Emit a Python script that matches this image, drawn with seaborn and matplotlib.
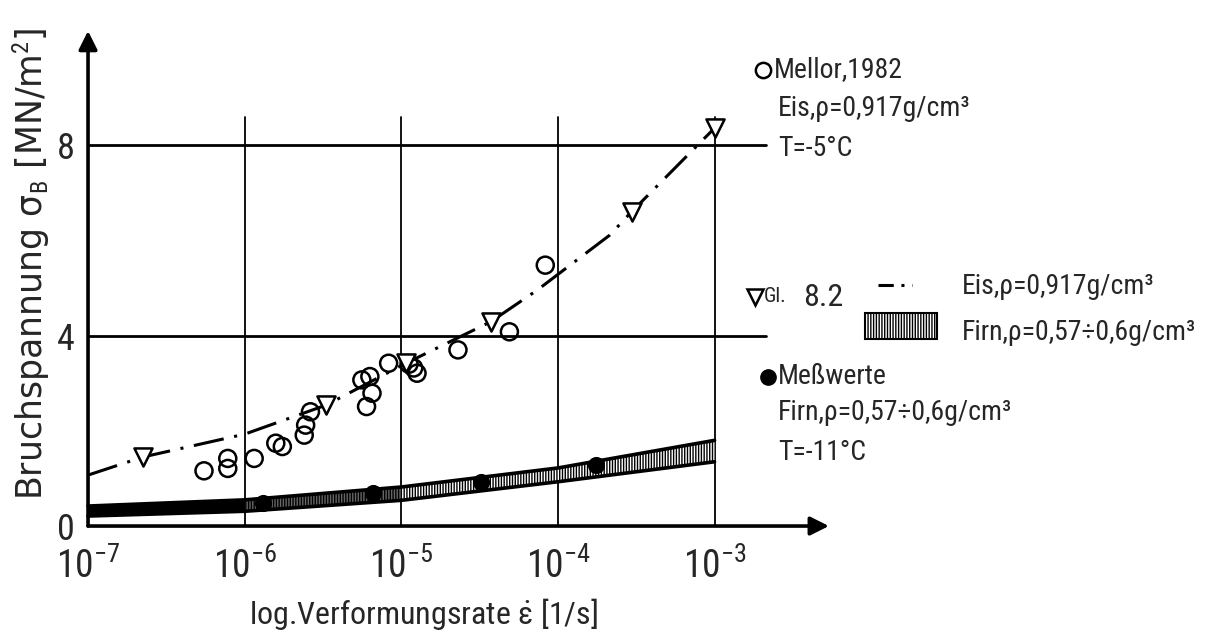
import numpy as np
import pandas as pd
import matplotlib
matplotlib.use("Agg")
import matplotlib.pyplot as plt
import seaborn as sns
from matplotlib import font_manager
from matplotlib.patches import Rectangle
from matplotlib.ticker import NullLocator

# ---------------- data ----------------
# Mellor, 1982 (open circles): strain rate [1/s], stress [MN/m^2]
mellor_rate = [5.5e-7, 7.8e-7, 7.8e-7, 1.15e-6, 1.58e-6, 1.74e-6, 2.4e-6, 2.45e-6,
               2.63e-6, 5.6e-6, 6.0e-6, 6.3e-6, 6.5e-6, 8.3e-6, 1.12e-5, 1.2e-5,
               1.26e-5, 2.3e-5, 4.9e-5, 8.3e-5]
mellor_stress = [1.16, 1.42, 1.21, 1.42, 1.74, 1.67, 1.91, 2.12,
                 2.40, 3.07, 2.51, 3.14, 2.79, 3.42, 3.40, 3.32,
                 3.21, 3.70, 4.08, 5.48]

# Gl. 8.2 (open triangles)
gl82_rate = [2.24e-7, 3.31e-6, 1.07e-5, 3.72e-5, 2.95e-4, 1.0e-3]
gl82_stress = [1.45, 2.54, 3.42, 4.29, 6.60, 8.36]

# Gl. 8.2 curve for ice (dash-dot)
eis_rate = [1e-7, 2.24e-7, 1e-6, 3.31e-6, 1.07e-5, 3.72e-5, 7.4e-5, 2.14e-4, 2.95e-4, 1e-3]
eis_stress = [1.07, 1.45, 1.93, 2.54, 3.42, 4.29, 4.96, 6.11, 6.60, 8.36]

# Gl. 8.2 band for firn (hatched)
firn_rate = [1e-7, 1e-6, 1e-5, 1e-4, 1e-3]
firn_upper = [0.42, 0.55, 0.82, 1.22, 1.80]
firn_lower = [0.21, 0.31, 0.54, 0.93, 1.35]

# Messwerte (filled circles)
mess_rate = [1.3e-6, 6.6e-6, 3.25e-5, 1.76e-4]
mess_stress = [0.48, 0.69, 0.93, 1.28]

x_ticks = [1e-7, 1e-6, 1e-5, 1e-4, 1e-3]
x_ticklabels = [r"$10^{-7}$", r"$10^{-6}$", r"$10^{-5}$", r"$10^{-4}$", r"$10^{-3}$"]
y_ticks = [0, 4, 8]
y_ticklabels = ["0", "4", "8"]
grid_y = [4, 8]
grid_x = [1e-6, 1e-5, 1e-4, 1e-3]

# ---------------- style ----------------
sns.set_theme(style="white")
names = {f.name for f in font_manager.fontManager.ttflist}
font = "DejaVu Sans"
for cand in ["Liberation Sans Narrow", "DejaVu Sans Condensed", "Roboto Condensed",
             "Open Sans Condensed", "Liberation Sans"]:
    if cand in names:
        font = cand
        break
plt.rcParams["font.family"] = [font, "DejaVu Sans"]
plt.rcParams["mathtext.fontset"] = "custom"
plt.rcParams["mathtext.rm"] = font
plt.rcParams["mathtext.it"] = font
plt.rcParams["mathtext.bf"] = font
plt.rcParams["hatch.linewidth"] = 1.0

W, H = 1214, 635
fig = plt.figure(figsize=(W / 100, H / 100), dpi=100)
fig.patch.set_facecolor("white")

# axes placement (pixel-derived)
lx0, lx1 = -7.02, -2.2
y0, y1 = -0.1, 10.6
ax_left = 84.9 / W
ax_w = 755.0 / W
ax_bottom = (H - 530.8) / H
ax_h = 509.4 / H
ax = fig.add_axes([ax_left, ax_bottom, ax_w, ax_h])
ax.set_facecolor("white")
ax.set_xscale("log")
ax.set_xlim(10 ** lx0, 10 ** lx1)
ax.set_ylim(y0, y1)

# grid lines
for gy in grid_y:
    ax.plot([1e-7, 10 ** -2.67], [gy, gy], color="black", lw=2.0, zorder=1)
for gx in grid_x:
    ax.plot([gx, gx], [0, 8.6], color="black", lw=1.3, zorder=1)

# firn band
ax.fill_between(firn_rate, firn_lower, firn_upper, facecolor="white",
                edgecolor="black", hatch="||||||", linewidth=0, zorder=2)
df_band = pd.DataFrame({"rate": firn_rate * 2,
                        "stress": firn_upper + firn_lower,
                        "edge": ["upper"] * 5 + ["lower"] * 5})
sns.lineplot(data=df_band, x="rate", y="stress", units="edge", estimator=None,
             color="black", lw=2.6, ax=ax, zorder=3, legend=False)
# dark left part of the band
ax.fill_between(firn_rate[:2], firn_lower[:2], firn_upper[:2], facecolor="black",
                linewidth=0, zorder=2)
ax.fill_between(firn_rate[1:3], firn_lower[1:3], firn_upper[1:3], facecolor="black",
                alpha=0.6, linewidth=0, zorder=2)

# ice curve (dash-dot)
df_eis = pd.DataFrame({"rate": eis_rate, "stress": eis_stress})
sns.lineplot(data=df_eis, x="rate", y="stress", color="black", lw=2.2, ax=ax,
             zorder=3, estimator=None, sort=False,
             linestyle=(0, (10, 3.5, 1, 3.5)))

# markers
df_mellor = pd.DataFrame({"rate": mellor_rate, "stress": mellor_stress})
sns.scatterplot(data=df_mellor, x="rate", y="stress", marker="o", s=150,
                facecolor="none", edgecolor="black", linewidth=1.8, ax=ax, zorder=4)
df_gl = pd.DataFrame({"rate": gl82_rate, "stress": gl82_stress})
sns.scatterplot(data=df_gl, x="rate", y="stress", marker="v", s=170,
                facecolor="white", edgecolor="black", linewidth=1.8, ax=ax, zorder=5)
df_mess = pd.DataFrame({"rate": mess_rate, "stress": mess_stress})
sns.scatterplot(data=df_mess, x="rate", y="stress", marker="o", s=130,
                color="black", edgecolor="black", ax=ax, zorder=5)

# axis arrows
ax.annotate("", xy=(10 ** -2.27, 0), xytext=(1e-7, 0),
            arrowprops=dict(arrowstyle="-|>", lw=2.6, color="black",
                            mutation_scale=28, shrinkA=0, shrinkB=0), zorder=6)
ax.annotate("", xy=(1e-7, 10.4), xytext=(1e-7, 0),
            arrowprops=dict(arrowstyle="-|>", lw=2.6, color="black",
                            mutation_scale=28, shrinkA=0, shrinkB=0), zorder=6)

sns.despine(ax=ax, left=True, bottom=True, top=True, right=True)
ax.set_xticks(x_ticks)
ax.set_xticklabels(x_ticklabels, fontsize=27)
ax.xaxis.set_minor_locator(NullLocator())
ax.set_yticks(y_ticks)
ax.set_yticklabels(y_ticklabels, fontsize=26)
ax.tick_params(axis="both", length=0)
ax.tick_params(axis="x", pad=12)
ax.tick_params(axis="y", pad=7)
ax.grid(False)

ax.set_xlabel(r"log.Verformungsrate $\dot{\varepsilon}$ [1/s]", fontsize=23)
ax.xaxis.set_label_coords((423 - 84.9) / 755.0, (530.8 - 596) / 509.4)
ax.set_ylabel(r"Bruchspannung σ$_\mathrm{B}$ [MN/m$^2$]", fontsize=25,
              family=["DejaVu Sans"])
ax.yaxis.set_label_coords((52 - 84.9) / 755.0, (530.8 - 264) / 509.4)

# ---------------- annotation block (pixel coordinates overlay) ----------------
ov = fig.add_axes([0, 0, 1, 1], facecolor="none")
ov.set_xlim(0, W)
ov.set_ylim(H, 0)
ov.axis("off")

fs = 20
ov.plot([763], [70], marker="o", ms=11, mfc="white", mec="black", mew=1.8)
ov.text(774, 70, "Mellor,1982", fontsize=fs, va="center", ha="left")
ov.text(778, 109, "Eis,ρ=0,917g/cm³", fontsize=fs, va="center", ha="left")
ov.text(778, 148, "T=-5°C", fontsize=fs, va="center", ha="left")

ov.plot([755], [297], marker="v", ms=12, mfc="white", mec="black", mew=1.8)
ov.text(764, 297, "Gl.", fontsize=15, va="center", ha="left")
ov.text(803, 297, "8.2", fontsize=23, va="center", ha="left")
ov.plot([878, 912], [285, 285], color="black", lw=2.2,
        linestyle=(0, (5, 2.5, 1, 2.5)))
ov.add_patch(Rectangle((865, 313), 72, 26, facecolor="white", edgecolor="black",
                       hatch="||||||", lw=1.5))
ov.text(962, 287, "Eis,ρ=0,917g/cm³", fontsize=fs, va="center", ha="left")
ov.text(962, 333, "Firn,ρ=0,57÷0,6g/cm³", fontsize=fs, va="center", ha="left")

ov.plot([768], [377], marker="o", ms=11, mfc="black", mec="black")
ov.text(778, 377, "Meßwerte", fontsize=fs, va="center", ha="left")
ov.text(778, 413, "Firn,ρ=0,57÷0,6g/cm³", fontsize=fs, va="center", ha="left")
ov.text(778, 453, "T=-11°C", fontsize=fs, va="center", ha="left")

fig.savefig("out.png", dpi=100, facecolor="white")
